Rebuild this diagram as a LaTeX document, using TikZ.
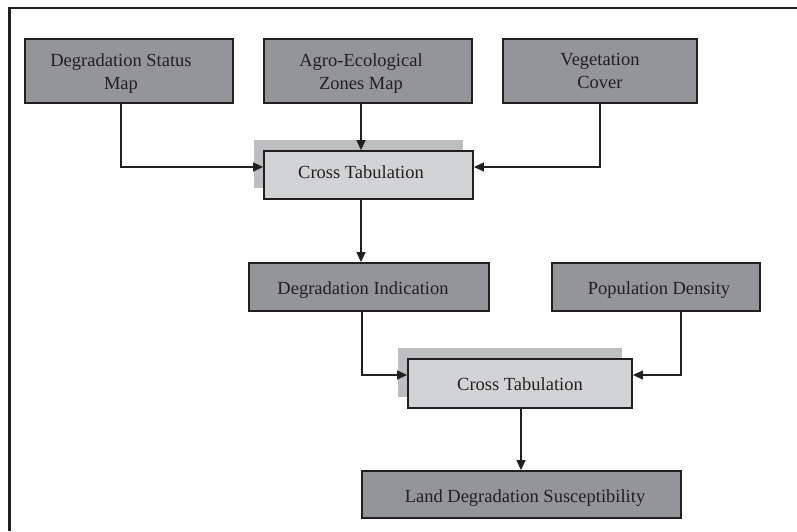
\documentclass[tikz,border=0pt]{standalone}
\usepackage{fontspec}
\setmainfont{Liberation Serif}
\usetikzlibrary{arrows.meta,shadows,calc}
\definecolor{darkfill}{HTML}{939598}
\definecolor{lightfill}{HTML}{D1D3D4}
\definecolor{shadowc}{HTML}{BCBEC0}
\definecolor{ink}{HTML}{231F20}
\tikzset{
  darkbox/.style={draw=ink, line width=1.8pt, fill=darkfill, inner sep=0pt},
  lightbox/.style={draw=ink, line width=1.8pt, fill=lightfill, inner sep=0pt,
    drop shadow={shadow xshift=-10pt, shadow yshift=11pt, fill=shadowc, opacity=1}},
  lbl/.style={text=ink, inner sep=0pt, font=\fontsize{18.5}{23}\selectfont, align=center},
  arr/.style={draw=ink, line width=1.3pt, -{Triangle[length=10pt,width=9pt]}}
}
\begin{document}
\begin{tikzpicture}[x=1pt,y=-1pt]
\useasboundingbox (0,0) rectangle (797,531);
% frame
\draw[ink, line width=2.5pt] (9.5,531) -- (9.5,8) -- (797,8);
% top row
\node[darkbox, minimum width=208pt, minimum height=64pt] (b1) at (129,71) {};
\node[darkbox, minimum width=208pt, minimum height=64pt] (b2) at (368,71) {};
\node[darkbox, minimum width=194pt, minimum height=64pt] (b3) at (600,71) {};
\node[lbl] (t1) at (121,73.2) {Degradation Status\\Map};
\node[lbl] (t2) at (361,73.2) {Agro-Ecological\\Zones Map};
\node[lbl] (t3) at (600,71.4) {Vegetation\\Cover};
% first cross tabulation
\node[lightbox, minimum width=209pt, minimum height=48pt] (ct1) at (368.5,175) {};
\node[lbl, anchor=base] (tc1) at (361,178) {Cross Tabulation};
% middle row
\node[darkbox, minimum width=240pt, minimum height=48pt] (di) at (369,287) {};
\node[lbl, anchor=base] (tdi) at (363,294) {Degradation Indication};
\node[darkbox, minimum width=208pt, minimum height=48pt] (pd) at (656,287) {};
\node[lbl, anchor=base] (tpd) at (659,294) {Population Density};
% second cross tabulation
\node[lightbox, minimum width=224pt, minimum height=49pt] (ct2) at (520,383.5) {};
\node[lbl, anchor=base] (tc2) at (520,390) {Cross Tabulation};
% result
\node[darkbox, minimum width=319pt, minimum height=47pt] (ld) at (521.5,494.5) {};
\node[lbl, anchor=base] (tld) at (525,502) {Land Degradation Susceptibility};
% junction coordinates
\coordinate (j1) at (121,167);
\coordinate (j2) at (361,0);
\coordinate (j3) at (600,167);
\coordinate (j4) at (362,375);
\coordinate (j5) at (681,375);
\coordinate (j6) at (521,0);
% connectors
\draw[arr] (b1.south -| j1) |- (ct1.west |- j1);
\draw[arr] (b2.south -| j2) -- (ct1.north -| j2);
\draw[arr] (b3.south -| j3) |- (ct1.east |- j3);
\draw[arr] (ct1.south -| j2) -- (di.north -| j2);
\draw[arr] (di.south -| j4) |- (ct2.west |- j4);
\draw[arr] (pd.south -| j5) |- (ct2.east |- j5);
\draw[arr] (ct2.south -| j6) -- (ld.north -| j6);
\end{tikzpicture}
\end{document}
